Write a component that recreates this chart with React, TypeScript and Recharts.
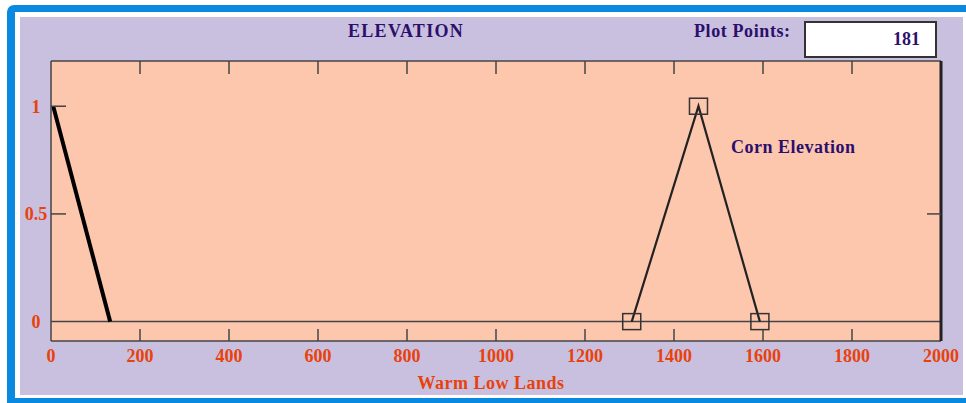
import React from "react";
import {
  LineChart,
  Line,
  XAxis,
  YAxis,
  CartesianGrid,
  ReferenceLine,
  Legend,
} from "recharts";

const xTicks = [0, 200, 400, 600, 800, 1000, 1200, 1400, 1600, 1800, 2000];
const innerXTicks = [200, 400, 600, 800, 1000, 1200, 1400, 1600, 1800];
const yTicks = [0, 0.5, 1];
const leftInnerTicks = [0.5, 1];
const rightInnerTicks = [0.5];

// Warm Low Lands
const warmX = [5, 133];
const warmY = [1, 0];
// Corn Elevation
const cornX = [1305, 1455, 1593];
const cornY = [0, 1, 0];

const plotPoints = 181;

const warmData = warmX.map((x, i) => ({ x, y: warmY[i] }));
const cornData = cornX.map((x, i) => ({ x, y: cornY[i] }));

const SERIF = '"Liberation Serif", "DejaVu Serif", serif';
const ORANGE = "#e8420c";
const INDIGO = "#2c0f6c";
const FRAME = "#444";

const tickStyle = {
  fill: ORANGE,
  fontSize: 18,
  fontWeight: 700,
  fontFamily: SERIF,
};

function SquareDot(props: any) {
  const { cx, cy } = props;
  if (cx == null || cy == null) return <g />;
  return (
    <rect
      x={cx - 9}
      y={cy - 8}
      width={18}
      height={16}
      fill="none"
      stroke="#333"
      strokeWidth={1.5}
    />
  );
}

const noLabel = () => <g />;

export default function App() {
  return (
    <div
      style={{
        position: "absolute",
        left: 0,
        top: 0,
        width: 966,
        height: 403,
        overflow: "hidden",
        background: "#fff",
        fontFamily: SERIF,
      }}
    >
      <div
        style={{
          position: "absolute",
          left: 7,
          top: 5,
          width: 975,
          height: 410,
          background: "#0a89e0",
          borderRadius: 7,
        }}
      />
      <div
        style={{
          position: "absolute",
          left: 15,
          top: 12,
          width: 960,
          height: 386,
          background: "#fff",
        }}
      />
      <div
        style={{
          position: "absolute",
          left: 20,
          top: 17,
          width: 943,
          height: 378,
          background: "#c9bfdf",
        }}
      />
      <div
        style={{
          position: "absolute",
          left: 348,
          top: 21,
          color: INDIGO,
          fontWeight: 700,
          fontSize: 18,
          letterSpacing: 1.3,
        }}
      >
        ELEVATION
      </div>
      <div
        style={{
          position: "absolute",
          left: 694,
          top: 21,
          color: INDIGO,
          fontWeight: 700,
          fontSize: 18,
          letterSpacing: 0.6,
        }}
      >
        Plot Points:
      </div>
      <div
        style={{
          position: "absolute",
          left: 804,
          top: 21,
          width: 129,
          height: 33,
          background: "#fff",
          border: "2px solid #333",
          color: INDIGO,
          fontWeight: 700,
          fontSize: 18,
          textAlign: "right",
          lineHeight: "33px",
        }}
      >
        <span style={{ marginRight: 15 }}>{plotPoints}</span>
      </div>
      <div style={{ position: "absolute", left: 0, top: 0 }}>
        <LineChart
          width={966}
          height={403}
          margin={{ top: 61, right: 25, bottom: 17, left: 21 }}
        >
          <CartesianGrid
            fill="#fdc7ae"
            horizontal={false}
            vertical={false}
          />
          <XAxis
            xAxisId="main"
            type="number"
            dataKey="x"
            domain={[0, 2000]}
            allowDataOverflow
            ticks={xTicks}
            height={45}
            tickSize={0}
            tickMargin={8}
            tickLine={false}
            axisLine={{ stroke: FRAME, strokeWidth: 1.5 }}
            tick={tickStyle}
            interval={0}
            label={{
              value: "Warm Low Lands",
              position: "insideBottom",
              offset: -3,
              dx: -5,
              fill: ORANGE,
              fontSize: 18,
              fontWeight: 700,
              fontFamily: SERIF,
              letterSpacing: 0.5,
            }}
          />
          <XAxis
            xAxisId="bottomInner"
            type="number"
            dataKey="x"
            domain={[0, 2000]}
            allowDataOverflow
            ticks={innerXTicks}
            orientation="bottom"
            mirror
            tickSize={12}
            tick={noLabel}
            tickLine={{ stroke: FRAME, strokeWidth: 1.5 }}
            axisLine={false}
            interval={0}
          />
          <XAxis
            xAxisId="topInner"
            type="number"
            dataKey="x"
            domain={[0, 2000]}
            allowDataOverflow
            ticks={innerXTicks}
            orientation="top"
            mirror
            tickSize={13}
            tick={noLabel}
            tickLine={{ stroke: FRAME, strokeWidth: 1.5 }}
            axisLine={{ stroke: FRAME, strokeWidth: 1.5 }}
            interval={0}
          />
          <YAxis
            yAxisId="main"
            type="number"
            domain={[-0.09, 1.21]}
            allowDataOverflow
            ticks={yTicks}
            width={30}
            tickSize={0}
            tickMargin={15}
            tickLine={false}
            axisLine={{ stroke: FRAME, strokeWidth: 1.5 }}
            tick={{ ...tickStyle, textAnchor: "middle" }}
            interval={0}
          />
          <YAxis
            yAxisId="leftInner"
            type="number"
            domain={[-0.09, 1.21]}
            allowDataOverflow
            ticks={leftInnerTicks}
            orientation="left"
            mirror
            tickSize={15}
            tick={noLabel}
            tickLine={{ stroke: FRAME, strokeWidth: 1.5 }}
            axisLine={false}
            interval={0}
          />
          <YAxis
            yAxisId="rightInner"
            type="number"
            domain={[-0.09, 1.21]}
            allowDataOverflow
            ticks={rightInnerTicks}
            orientation="right"
            mirror
            tickSize={14}
            tick={noLabel}
            tickLine={{ stroke: FRAME, strokeWidth: 1.5 }}
            axisLine={{ stroke: "#222", strokeWidth: 3 }}
            interval={0}
          />
          <ReferenceLine
            xAxisId="main"
            yAxisId="main"
            y={0}
            stroke={FRAME}
            strokeWidth={1.5}
          />
          <Legend
            layout="vertical"
            align="center"
            verticalAlign="middle"
            wrapperStyle={{ left: 731, top: 137, width: 140 }}
            content={() => (
              <div
                style={{
                  color: INDIGO,
                  fontWeight: 700,
                  fontSize: 18,
                  letterSpacing: 0.5,
                  fontFamily: SERIF,
                  whiteSpace: "nowrap",
                }}
              >
                Corn Elevation
              </div>
            )}
          />
          <Line
            xAxisId="main"
            yAxisId="main"
            data={warmData}
            dataKey="y"
            name="Warm Low Lands"
            stroke="#000"
            strokeWidth={4}
            dot={false}
            isAnimationActive={false}
          />
          <Line
            xAxisId="main"
            yAxisId="main"
            data={cornData}
            dataKey="y"
            name="Corn Elevation"
            stroke="#222"
            strokeWidth={2.2}
            dot={<SquareDot />}
            isAnimationActive={false}
          />
        </LineChart>
      </div>
    </div>
  );
}
